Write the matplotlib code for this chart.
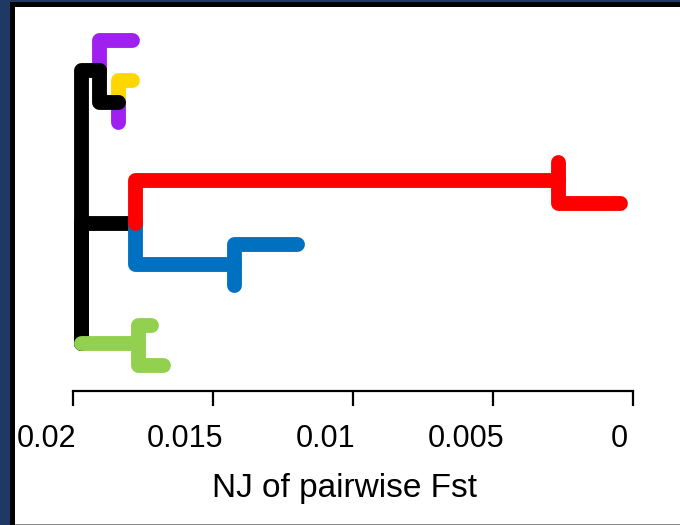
import matplotlib
matplotlib.use("Agg")
import matplotlib.pyplot as plt
import matplotlib.transforms as mtransforms
from matplotlib.patches import Rectangle

W, H, DPI = 680, 525, 100

# ---- data: tree nodes (name, Fst distance on x, vertical position) ----
node_names = ["root", "A", "P1", "C", "Y", "P2", "B", "Bn", "B1", "B2",
              "Rn", "R1", "R2", "G", "G1", "G2"]
node_dist = [0.01973, 0.01909, 0.01791, 0.01841, 0.01791, 0.01841,
             0.01780, 0.01426, 0.01202, 0.01426,
             0.00268, 0.00268, 0.00045, 0.01769, 0.01723, 0.01680]
node_row = [343, 70, 40, 102, 80, 122, 222.7, 264, 244.3, 285,
            180, 161.7, 203, 343, 325, 365]

# branches (child, parent, colour) in drawing order
branch_child = ["P1", "Y", "P2", "C", "A", "B", "Bn", "B1", "B2",
                "Rn", "R1", "R2", "G", "G1", "G2"]
branch_parent = ["A", "C", "C", "A", "root", "root", "B", "Bn", "Bn",
                 "B", "Rn", "Rn", "root", "G", "G"]
branch_color = ["#A020F0", "#FFD700", "#A020F0", "black", "black", "black",
                "#0070C0", "#0070C0", "#0070C0",
                "#FF0000", "#FF0000", "#FF0000",
                "#92D050", "#92D050", "#92D050"]

tick_vals = [0.02, 0.015, 0.01, 0.005, 0.0]
tick_labels = ["0.02", "0.015", "0.01", "0.005", "0"]
tick_label_shift_px = [-27, -28, -27, -27, -13]

plt.rcParams['font.family'] = ['Liberation Sans', 'DejaVu Sans']

fig = plt.figure(figsize=(W / DPI, H / DPI), dpi=DPI)
fig.patch.set_facecolor("#1E3A64")

def fig_rect(x0, y0, x1, y1, color):
    fig.add_artist(Rectangle((x0 / W, 1 - y1 / H), (x1 - x0) / W, (y1 - y0) / H,
                             transform=fig.transFigure, facecolor=color,
                             edgecolor="none", zorder=-10))

fig_rect(10, 2, W, H, "black")
fig_rect(15, 7, W, 524, "white")
fig_rect(15, 524, W, H, "#8C8C8C")

ax_left, ax_right, ax_top, ax_bottom = 73.3, 632.7, 20, 391
ax = fig.add_axes([ax_left / W, 1 - ax_bottom / H,
                   (ax_right - ax_left) / W, (ax_bottom - ax_top) / H])
ax.set_facecolor("none")
ax.set_xlim(0.02, 0.0)
ax.set_ylim(ax_bottom, ax_top)

pos = {n: (d, r) for n, d, r in zip(node_names, node_dist, node_row)}
lw = 10.7
for c, p, col in zip(branch_child, branch_parent, branch_color):
    px, py = pos[p]
    cx, cy = pos[c]
    ax.plot([px, px, cx], [py, cy, cy], color=col, lw=lw,
            solid_capstyle="round", solid_joinstyle="round", clip_on=False)

for s in ["top", "right", "left"]:
    ax.spines[s].set_visible(False)
ax.spines["bottom"].set_linewidth(1.6)
ax.set_yticks([])
ax.set_xticks(tick_vals)
ax.set_xticklabels([])
ax.tick_params(axis="x", direction="out", length=11, width=1.6, color="black")

for v, lab, sh in zip(tick_vals, tick_labels, tick_label_shift_px):
    tr = ax.get_xaxis_transform() + mtransforms.ScaledTranslation(sh / DPI, 0, fig.dpi_scale_trans)
    ax.text(v, -0.088, lab, transform=tr, ha="center", va="top", fontsize=22, color="black")

ax.text((345 - ax_left) / (ax_right - ax_left), -0.222, "NJ of pairwise Fst",
        transform=ax.transAxes, ha="center", va="top", fontsize=24, color="black")

fig.savefig("out.png", dpi=DPI, facecolor=fig.get_facecolor())
